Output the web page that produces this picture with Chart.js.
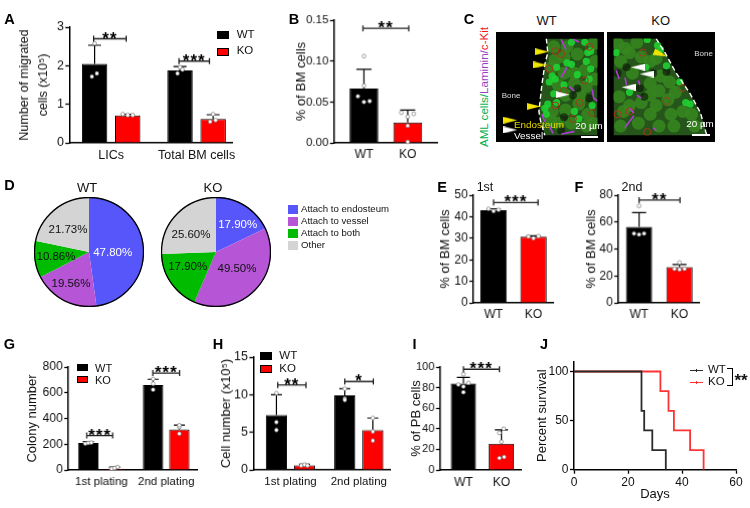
<!DOCTYPE html>
<html>
<head>
<meta charset="utf-8">
<script src="https://cdn.jsdelivr.net/npm/chart.js@4"></script>
<style>
  html, body { margin: 0; padding: 0; background: #fff; }
  #page { position: relative; width: 750px; height: 508px; overflow: hidden; font-family: 'Liberation Sans', Arial, sans-serif; color: #111; }
  #page canvas { position: absolute; }
  .txt { position: absolute; white-space: nowrap; line-height: 1; }
  .swatch { position: absolute; box-sizing: border-box; border: 1px solid #000; }
</style>
</head>
<body>
<div id="page"></div>
<script>
// A
const aGroups = ['LICs', 'Total BM cells'];
const aWT = [2.05, 1.88], aKO = [0.71, 0.62];
const aWTTop = [2.53, 1.98], aKOTop = [0.74, 0.73];
const aWTDots = [[2.58, 1.8, 1.72], [1.96, 1.8, 1.9]], aKODots = [[0.745, 0.72, 0.72], [0.745, 0.55, 0.59]];
const aWTJitter = [[0, 2.3, -2.7], [0, -2.5, 2.5]], aKOJitter = [[-5, 0, 5], [0, -3, 2.5]];
// B
const pair = ['WT', 'KO'];
const bMeans = [0.0665, 0.025], bTops = [0.09, 0.04];
const bDots = [[0.106, 0.07, 0.057, 0.05, 0.051], [0.037, 0.032, 0.0355, 0.021, 0.0012]];
const bJitter = [[0, 0, -6, 0, 5.7], [-6.3, 0, 6, 0, 0]];
// D
const pieNames = ['Attach to endosteum', 'Attach to vessel', 'Attach to both', 'Other'];
const pieColors = ['#5656fb', '#b655d6', '#00bb00', '#d4d4d4'];
const wtShares = [47.80, 19.56, 10.86, 21.73];
const wtPieLabels = ['47.80%', '19.56%', '10.86%', '21.73%'];
const koShares = [17.90, 38.6, 17.90, 25.60];
const koPieLabels = ['17.90%', '49.50%', '17.90%', '25.60%'];
// E
const eMeans = [43, 30.7], eTops = [43.7, 31.1];
const eDots = [[43.65, 42.6, 43.2], [30.8, 30, 31]];
const threeJitter = [[-5, 0, 5], [-5, 0, 5]];
// F
const fMeans = [56.5, 26.5], fTops = [67, 28.5];
const fDots = [[72, 51.5, 50.8, 51.5], [30, 25.3, 24.8, 25.3]];
const fJitter = [[0, -5, 0, 5], [0, -5, 0, 5]];
// G
const platings = ['1st plating', '2nd plating'];
const gWT = [210, 660], gKO = [10, 315];
const gWTTop = [220, 705], gKOTop = [22, 348];
const gWTDots = [[205, 210, 213], [707, 670, 624]], gKODots = [[10, 23, 15], [334, 282, 347]];
const gWTJitter = [[-3, 0, 3], [0, 0, 0]], gKOJitter = [[-3, 3, 0], [0, 0, 0]];
// H
const hWT = [7.3, 9.9], hKO = [0.6, 5.3];
const hWTTop = [10, 10.8], hKOTop = [0.75, 6.9];
const hWTDots = [[10.2, 6.35, 5.3], [10.8, 9.5, 9.3]], hKODots = [[0.58, 0.7, 0.58], [6.9, 5.1, 3.9]];
const hWTJitter = [[0, 0, 0], [0, 0, 0]], hKOJitter = [[-3.3, 0, 3], [0, 0, 0]];
// I
const iMeans = [84, 25.5], iTops = [90, 39];
const iDots = [[93, 83, 81, 84.5, 75.5], [40, 36, 27.4, 11.6, 12.6]];
const iJitter = [[0, -5, 0, 5, 0], [2.3, -2, 0, -2, 2.7]];
// J
const wtDays = [0, 25, 26, 29, 34], wtSurvival = [100, 60, 40, 20, 0];
const koDays = [0, 32, 35, 37, 43, 48], koSurvival = [100, 80, 60, 40, 20, 0];

const wtBoundary = [[155, 12], [160, 60], [150, 100], [140, 170], [130, 260], [135, 290], [150, 342]];
const wtTissue = wtBoundary.concat([[328, 342], [328, 12]]);
const wtGreen = [[180, 40], [215, 75], [260, 65], [185, 85], [250, 130], [285, 120], [215, 130], [320, 90], [175, 110], [195, 170], [250, 165], [290, 175], [220, 205], [175, 260], [220, 255], [270, 210], [295, 270], [240, 300], [195, 300], [290, 310], [315, 300], [170, 290], [320, 150], [265, 235], [225, 40], [315, 30]];
const wtBright = [[295, 60], [305, 55], [240, 25], [285, 25], [225, 95], [240, 100], [305, 115], [175, 140], [185, 150], [165, 160], [260, 135], [180, 200], [160, 235], [150, 250], [155, 270], [190, 230], [250, 260], [265, 285], [310, 240], [300, 150], [190, 110], [215, 170], [290, 90]];
const wtRed = [[185, 55], [205, 65], [165, 115], [300, 40], [185, 240], [268, 230], [215, 190], [285, 155], [245, 285], [310, 265]];
const wtDark = [[245, 205], [215, 280], [260, 182], [300, 215], [205, 325]];
const wtVessels = [[[205, 15], [222, 50]], [[245, 14], [265, 24]], [[205, 145], [225, 110]], [[310, 185], [315, 215], [328, 225]], [[232, 175], [250, 190]], [[140, 270], [150, 295]], [[165, 310], [178, 335]], [[205, 338], [250, 328]]];
const wtYellow = [[140, 57], [135, 102], [112, 243], [33, 290]], wtWhite = [[210, 203], [33, 323]];
const koBoundary = [[150, 12], [180, 60], [215, 125], [265, 200], [300, 265], [318, 330], [322, 342]];
const koTissue = koBoundary.concat([[6, 342], [6, 12]]);
const koGreen = [[45, 45], [20, 30], [85, 25], [60, 60], [100, 75], [130, 90], [150, 80], [30, 90], [70, 130], [130, 165], [165, 140], [195, 160], [215, 195], [160, 190], [190, 220], [150, 240], [200, 270], [240, 260], [270, 270], [130, 270], [90, 300], [40, 260], [30, 310], [100, 230], [60, 240], [160, 310], [210, 310], [280, 310], [130, 205], [25, 210]];
const koBright = [[165, 50], [155, 35], [120, 15], [115, 110], [60, 195], [250, 230], [265, 235], [15, 60], [230, 160], [185, 105]];
const koRed = [[185, 225], [105, 60], [60, 260], [120, 330], [20, 270], [240, 180]];
const koDark = [[50, 110], [20, 130], [140, 130], [110, 210], [185, 125], [95, 180]];
const koVessels = [[[15, 120], [25, 150]], [[45, 145], [50, 170]], [[90, 155], [95, 170]], [[85, 205], [100, 215]], [[60, 250], [75, 265]], [[45, 315], [75, 275]], [[140, 315], [150, 325]]];
const koYellow = [[165, 65]], koWhite = [[88, 110], [118, 133], [57, 178]];

Chart.defaults.font.family = "'Liberation Sans', Arial, sans-serif";
Chart.defaults.color = '#111';
Chart.defaults.animation = false;
Chart.defaults.plugins.legend.display = false;
Chart.defaults.plugins.tooltip.enabled = false;

const page = document.getElementById('page');

function addCanvas(x, y, w, h) {
  const c = document.createElement('canvas');
  c.width = w;
  c.height = h;
  c.style.left = x + 'px';
  c.style.top = y + 'px';
  c.style.width = w + 'px';
  c.style.height = h + 'px';
  page.appendChild(c);
  return c;
}

function label(text, x, y, opt) {
  opt = opt || {};
  const d = document.createElement('div');
  d.className = 'txt';
  d.innerHTML = text;
  d.style.left = x + 'px';
  d.style.top = y + 'px';
  d.style.fontSize = (opt.size || 12) + 'px';
  if (opt.bold) d.style.fontWeight = 'bold';
  if (opt.color) d.style.color = opt.color;
  d.style.transform = (opt.left ? 'translateY(-50%)' : 'translate(-50%,-50%)') + (opt.rotate ? ' rotate(' + opt.rotate + 'deg)' : '');
  page.appendChild(d);
}

function swatch(x, y, w, h, color, border) {
  const d = document.createElement('div');
  d.className = 'swatch';
  d.style.cssText = 'left:' + x + 'px;top:' + y + 'px;width:' + w + 'px;height:' + h + 'px;background:' + color + ';' + (border ? '' : 'border:none;');
  page.appendChild(d);
}

// fixed plot rectangle whatever the tick labels measure
function axisFit(box, p) {
  return {
    x(axis) { axis.height = box.y + box.h - p.bottom; axis.paddingLeft = 0; axis.paddingRight = 0; },
    y(axis) { axis.width = p.left - box.x; axis.paddingTop = 0; axis.paddingBottom = 0; }
  };
}

function barPanel(p) {
  const lh = p.titleSize * (p.titleLine || 1.2);
  const box = { x: p.titleX - lh / 2, y: Math.max(p.top - 18, 0), h: 0, w: 0 };
  box.w = p.right + 8 - box.x;
  box.h = p.bottom + 20 - box.y;
  const canvas = addCanvas(box.x, box.y, box.w, box.h);
  const fit = axisFit(box, p);
  const spacing = p.centers[1] - p.centers[0];
  const grouped = p.series.length > 1;
  const marks = {
    id: 'marks',
    afterDatasetsDraw(chart) {
      const ctx = chart.ctx, yScale = chart.scales.y;
      ctx.save();
      p.series.forEach((s, si) => {
        chart.getDatasetMeta(si).data.forEach((bar, j) => {
          const top = yScale.getPixelForValue(s.tops[j]);
          ctx.strokeStyle = '#000';
          ctx.lineWidth = 1.2;
          ctx.beginPath();
          ctx.moveTo(bar.x, yScale.getPixelForValue(s.values[j]));
          ctx.lineTo(bar.x, top);
          ctx.moveTo(bar.x - p.cap, top);
          ctx.lineTo(bar.x + p.cap, top);
          ctx.stroke();
          s.dots[j].forEach((v, k) => {
            ctx.beginPath();
            ctx.arc(bar.x + s.jitter[j][k], yScale.getPixelForValue(v), 1.9, 0, Math.PI * 2);
            ctx.fillStyle = '#fff';
            ctx.fill();
            ctx.strokeStyle = '#666';
            ctx.lineWidth = 0.6;
            ctx.stroke();
          });
        });
      });
      p.brackets.forEach(b => {
        const x0 = chart.getDatasetMeta(b.from[0]).data[b.from[1]].x + b.dx[0];
        const x1 = chart.getDatasetMeta(b.to[0]).data[b.to[1]].x + b.dx[1];
        const y = yScale.getPixelForValue(b.y);
        ctx.strokeStyle = '#222';
        ctx.lineWidth = 1.3;
        ctx.beginPath();
        ctx.moveTo(x0, y - 3);
        ctx.lineTo(x0, y + 3);
        ctx.moveTo(x0, y);
        ctx.lineTo(x1, y);
        ctx.moveTo(x1, y - 3);
        ctx.lineTo(x1, y + 3);
        ctx.stroke();
        ctx.fillStyle = '#000';
        ctx.font = "bold 17px 'Liberation Sans', Arial, sans-serif";
        ctx.letterSpacing = '1px';
        ctx.textAlign = 'center';
        ctx.textBaseline = 'alphabetic';
        ctx.fillText(b.stars, (x0 + x1) / 2, y + 5);
        ctx.letterSpacing = '0px';
      });
      ctx.restore();
    }
  };
  new Chart(canvas, {
    type: 'bar',
    data: {
      datasets: p.series.map(s => ({
        data: s.values.map((v, i) => ({ x: i, y: v })),
        backgroundColor: s.color,
        borderColor: '#000',
        borderWidth: 1,
        barPercentage: grouped ? p.barW / p.slot : p.barW / spacing,
        categoryPercentage: grouped ? p.slot * 2 / spacing : 1
      }))
    },
    options: {
      responsive: false,
      layout: { padding: { left: 0, top: p.top - box.y, right: box.x + box.w - p.right, bottom: 0 } },
      scales: {
        x: {
          type: 'linear',
          offset: false,
          min: (p.left - p.centers[0]) / spacing,
          max: (p.right - p.centers[0]) / spacing,
          afterBuildTicks(axis) { axis.ticks = p.labels.map((_, i) => ({ value: i })); },
          afterFit: fit.x,
          grid: { offset: false, drawOnChartArea: false, drawTicks: false },
          border: { color: '#000', width: 1.5 },
          ticks: { callback: v => p.labels[v], autoSkip: false, maxRotation: 0, padding: p.xPad, font: { size: p.xSize }, color: '#111' }
        },
        y: {
          min: 0,
          max: p.yMax,
          afterFit: fit.y,
          grid: { drawOnChartArea: false, tickLength: 4, tickColor: '#000', tickWidth: 1.3 },
          border: { color: '#000', width: 1.5 },
          ticks: { stepSize: p.yStep, padding: 1.5, font: { size: p.tickSize }, color: '#111', callback: v => v.toFixed(p.yDecimals || 0) },
          title: { display: true, text: p.title, padding: 0, color: '#111', font: { size: p.titleSize, lineHeight: p.titleLine || 1.2 } }
        }
      }
    },
    plugins: [marks]
  });
}

function piePanel(cx, cy, values, pieLabels, offsets) {
  const r = 54;
  const canvas = addCanvas(cx - r - 1, cy - r - 1, 2 * r + 2, 2 * r + 2);
  const ring = {
    id: 'ring',
    afterDatasetsDraw(chart) {
      const ctx = chart.ctx;
      const arc = chart.getDatasetMeta(0).data[0];
      ctx.save();
      ctx.beginPath();
      ctx.arc(arc.x, arc.y, arc.outerRadius - 0.5, 0, Math.PI * 2);
      ctx.strokeStyle = '#000';
      ctx.lineWidth = 1.3;
      ctx.stroke();
      ctx.restore();
    }
  };
  new Chart(canvas, {
    type: 'pie',
    data: { labels: pieNames, datasets: [{ data: values, backgroundColor: pieColors, borderWidth: 0 }] },
    options: { responsive: false, layout: { padding: 0 } },
    plugins: [ring]
  });
  pieLabels.forEach((t, i) => {
    label(t, cx + offsets[i][0], cy + offsets[i][1], { size: 11.5, color: i === 0 ? '#fff' : '#111' });
  });
}

function arrowSprite(color) {
  const c = document.createElement('canvas');
  c.width = 14;
  c.height = 7;
  const g = c.getContext('2d');
  g.fillStyle = color;
  g.beginPath();
  g.moveTo(0, 0);
  g.lineTo(14, 3.5);
  g.lineTo(0, 7);
  g.closePath();
  g.fill();
  return c;
}

function toXY(points) { return points.map(([x, y]) => ({ x, y })); }

function micrograph(box, xMin, xMax, d) {
  const canvas = addCanvas(box[0], box[1], box[2], box[3]);
  canvas.style.background = '#000';
  canvas.style.filter = 'blur(0.7px)';
  const dots = (pts, color, r) => ({ type: 'scatter', data: toXY(pts), backgroundColor: color, pointRadius: r, pointBorderWidth: 0 });
  const rings = (pts) => ({ type: 'scatter', data: toXY(pts), backgroundColor: 'rgba(0,0,0,0)', borderColor: '#a33a1c', pointRadius: 3.5, pointBorderWidth: 1 });
  const sets = [
    { type: 'scatter', data: toXY(d.tissue), showLine: true, fill: 'shape', backgroundColor: '#25551a', borderWidth: 0, pointRadius: 0 },
    dots(d.green, 'rgba(55,135,32,0.85)', 6.5),
    dots(d.dark, 'rgba(8,20,5,0.6)', 4),
    dots(d.bright, 'rgba(30,210,50,0.9)', 3.6),
    rings(d.red)
  ];
  d.vessels.forEach(v => sets.push({ type: 'scatter', data: toXY(v), showLine: true, borderColor: '#b23cd8', borderWidth: 1.6, pointRadius: 0 }));
  sets.push({ type: 'scatter', data: toXY(d.boundary), showLine: true, borderColor: '#fff', borderWidth: 1.4, borderDash: [5, 3], pointRadius: 0 });
  sets.push({ type: 'scatter', data: toXY(d.yellow), pointStyle: arrowSprite('#f2e600'), pointRotation: d.yellowTurn });
  sets.push({ type: 'scatter', data: toXY(d.white), pointStyle: arrowSprite('#fff'), pointRotation: d.whiteTurn });
  sets.forEach((s, i) => { s.order = sets.length - i; });
  new Chart(canvas, {
    data: { datasets: sets },
    options: {
      responsive: false,
      layout: { padding: 0 },
      scales: {
        x: { type: 'linear', display: false, min: xMin, max: xMax },
        y: { type: 'linear', display: false, min: 12, max: 342, reverse: true }
      }
    }
  });
}

// panel A
barPanel({
  left: 69, top: 27, right: 232, bottom: 142.7, centers: [110.9, 196.5], barW: 25.5, slot: 33.2, cap: 6.5,
  labels: aGroups, yMax: 3, yStep: 1, tickSize: 12.5, xSize: 12.5, xPad: 5,
  title: ['Number of migrated', 'cells (x10⁵)'], titleX: 24, titleSize: 12.5, titleLine: 1.5,
  series: [
    { color: '#000', values: aWT, tops: aWTTop, dots: aWTDots, jitter: aWTJitter },
    { color: '#f00', values: aKO, tops: aKOTop, dots: aKODots, jitter: aKOJitter }
  ],
  brackets: [
    { from: [0, 0], to: [1, 0], dx: [-1, -1.5], y: 2.7, stars: '**' },
    { from: [0, 1], to: [1, 1], dx: [-1, -3.7], y: 2.12, stars: '***' }
  ]
});
// panel B
barPanel({
  left: 334, top: 20, right: 436.7, bottom: 142.7, centers: [363.8, 407.5], barW: 28.7, cap: 7.5,
  labels: pair, yMax: 0.15, yStep: 0.05, yDecimals: 2, tickSize: 11.5, xSize: 12, xPad: 4,
  title: '% of BM cells', titleX: 302, titleSize: 13,
  series: [{ color: ['#000', '#f00'], values: bMeans, tops: bTops, dots: bDots, jitter: bJitter }],
  brackets: [{ from: [0, 0], to: [0, 1], dx: [-1, 1], y: 0.14, stars: '**' }]
});
// panel E
barPanel({
  left: 473.3, top: 195, right: 553, bottom: 302.7, centers: [493.5, 533.5], barW: 26.4, cap: 7,
  labels: pair, yMax: 50, yStep: 10, tickSize: 12, xSize: 12, xPad: 4,
  title: '% of BM cells', titleX: 446, titleSize: 13,
  series: [{ color: ['#000', '#f00'], values: eMeans, tops: eTops, dots: eDots, jitter: threeJitter }],
  brackets: [{ from: [0, 0], to: [0, 1], dx: [0, 4.5], y: 46.6, stars: '***' }]
});
// panel F
barPanel({
  left: 618.3, top: 195, right: 699, bottom: 302.7, centers: [639, 679.5], barW: 26.3, cap: 7,
  labels: pair, yMax: 80, yStep: 20, tickSize: 12, xSize: 12, xPad: 4,
  title: '% of BM cells', titleX: 592, titleSize: 13,
  series: [{ color: ['#000', '#f00'], values: fMeans, tops: fTops, dots: fDots, jitter: fJitter }],
  brackets: [{ from: [0, 0], to: [0, 1], dx: [0, 0.5], y: 76.3, stars: '**' }]
});
// panel G
barPanel({
  left: 68.3, top: 366.7, right: 196.7, bottom: 469.7, centers: [101.3, 166], barW: 20.3, slot: 26.2, cap: 5.5,
  labels: platings, yMax: 800, yStep: 200, tickSize: 12, xSize: 11.5, xPad: 5,
  title: 'Colony number', titleX: 33, titleSize: 13,
  series: [
    { color: '#000', values: gWT, tops: gWTTop, dots: gWTDots, jitter: gWTJitter },
    { color: '#f00', values: gKO, tops: gKOTop, dots: gKODots, jitter: gKOJitter }
  ],
  brackets: [
    { from: [0, 0], to: [1, 0], dx: [-1.5, -1.8], y: 267, stars: '***' },
    { from: [0, 1], to: [1, 1], dx: [-0.3, 0.2], y: 753, stars: '***' }
  ]
});
// panel H
barPanel({
  left: 253.3, top: 357.3, right: 390, bottom: 470, centers: [290.4, 358.8], barW: 21.3, slot: 28.1, cap: 5.5,
  labels: platings, yMax: 15, yStep: 5, tickSize: 12.5, xSize: 11.5, xPad: 5,
  title: 'Cell number (x10⁵)', titleX: 226.7, titleSize: 13,
  series: [
    { color: '#000', values: hWT, tops: hWTTop, dots: hWTDots, jitter: hWTJitter },
    { color: '#f00', values: hKO, tops: hKOTop, dots: hKODots, jitter: hKOJitter }
  ],
  brackets: [
    { from: [0, 0], to: [1, 0], dx: [1.3, 1.5], y: 11.3, stars: '**' },
    { from: [0, 1], to: [1, 1], dx: [0, 0.5], y: 11.75, stars: '*' }
  ]
});
// panel I
barPanel({
  left: 440, top: 366.7, right: 520.7, bottom: 470, centers: [463.3, 501.2], barW: 25.2, cap: 6.5,
  labels: pair, yMax: 100, yStep: 20, tickSize: 11, xSize: 12, xPad: 5,
  title: '% of PB cells', titleX: 417, titleSize: 13,
  series: [{ color: ['#000', '#f00'], values: iMeans, tops: iTops, dots: iDots, jitter: iJitter }],
  brackets: [{ from: [0, 0], to: [0, 1], dx: [0, -2], y: 97.8, stars: '***' }]
});

// panel C
micrograph([496, 32, 108, 110], 7, 328, {
  tissue: wtTissue, boundary: wtBoundary, green: wtGreen, bright: wtBright, red: wtRed, dark: wtDark,
  vessels: wtVessels, yellow: wtYellow, white: wtWhite, yellowTurn: 0, whiteTurn: 0
});
micrograph([607, 32, 108, 110], 6, 327, {
  tissue: koTissue, boundary: koBoundary, green: koGreen, bright: koBright, red: koRed, dark: koDark,
  vessels: koVessels, yellow: koYellow, white: koWhite, yellowTurn: 20, whiteTurn: 180
});
label('WT', 546.7, 19.5, { size: 13 });
label('KO', 660.7, 19.5, { size: 13 });
label('<span style="color:#00b050">AML cells/</span><span style="color:#9a3ec4">Laminin/</span><span style="color:#f01818">c-Kit</span>', 484, 86.5, { size: 11.6, rotate: -90 });
label('Bone', 511, 96, { size: 8, color: '#ddd' });
label('Bone', 703.5, 53.5, { size: 8, color: '#ddd' });
label('Endosteum', 514, 125, { size: 9.9, color: '#e6dc00', left: true });
label('Vessel', 514, 135.5, { size: 9.9, color: '#fff', left: true });
label('20 µm', 589, 125.5, { size: 9.8, color: '#fff' });
label('20 µm', 700, 123.5, { size: 9.8, color: '#fff' });
swatch(581, 136, 17, 1.5, '#fff');
swatch(692, 134, 18, 1.5, '#fff');

// panel D
piePanel(89.3, 251.7, wtShares, wtPieLabels, [[23.4, 1.6], [-18.3, 32.3], [-33.3, 5], [-21.3, -21.7]]);
piePanel(215.7, 252.3, koShares, koPieLabels, [[22, -27.3], [21.3, 16.7], [-28, 15], [-24.7, -17.3]]);
label('WT', 87, 186.5, { size: 13 });
label('KO', 213, 186.5, { size: 13 });
pieNames.forEach((name, i) => {
  swatch(287.5, 205 + i * 12, 10.5, 8.5, pieColors[i]);
  label(name, 301, 209.3 + i * 12, { size: 9.6, left: true });
});

// panel J
(function () {
  const p = { left: 574, top: 361.7, right: 736, bottom: 469.7 };
  const box = { x: 535, y: 350, w: 215, h: 152 };
  const fit = axisFit(box, p);
  new Chart(addCanvas(box.x, box.y, box.w, box.h), {
    type: 'line',
    data: {
      datasets: [
        { data: wtDays.map((d, i) => ({ x: d, y: wtSurvival[i] })), borderColor: '#2b2b2b', borderWidth: 1.8, stepped: true, pointRadius: 0 },
        { data: koDays.map((d, i) => ({ x: d, y: koSurvival[i] })), borderColor: '#f33', borderWidth: 1.8, stepped: true, pointRadius: 0 }
      ]
    },
    options: {
      responsive: false,
      layout: { padding: { left: 0, top: p.top - box.y, right: box.x + box.w - p.right, bottom: 0 } },
      scales: {
        x: {
          type: 'linear', min: 0, max: 60,
          afterFit: fit.x,
          grid: { drawOnChartArea: false, tickLength: 4, tickColor: '#000', tickWidth: 1.3 },
          border: { color: '#000', width: 1.5 },
          ticks: { stepSize: 20, padding: 1.5, font: { size: 12 }, color: '#111' },
          title: { display: true, text: 'Days', padding: { top: 0, bottom: 0 }, color: '#111', font: { size: 13 } }
        },
        y: {
          min: 0, max: 110,
          afterFit: fit.y,
          grid: { drawOnChartArea: false, tickLength: 4, tickColor: '#000', tickWidth: 1.3 },
          border: { color: '#000', width: 1.5 },
          ticks: { stepSize: 50, includeBounds: false, padding: 1.5, font: { size: 12 }, color: '#111' },
          title: { display: true, text: 'Percent survival', padding: 0, color: '#111', font: { size: 13 } }
        }
      }
    }
  });
})();
swatch(690, 369.5, 12.7, 1.5, '#2b2b2b');
swatch(695.7, 368.5, 1.2, 3.5, '#2b2b2b');
swatch(690, 381.5, 12.7, 1.5, '#f33');
swatch(695.7, 380.5, 1.2, 3.5, '#f33');
label('WT', 708, 370, { size: 11.5, left: true });
label('KO', 708, 382, { size: 11.5, left: true });
swatch(727, 368, 5, 1.3, '#000');
swatch(727, 385, 5, 1.3, '#000');
swatch(732, 368, 1.3, 18.3, '#000');
label('**', 741, 380, { size: 17, bold: true });

// legends of A, G, H
[[216.7, 31, 236.7, 35], [216.7, 47.5, 236.7, 51]].forEach((r, i) => {
  swatch(r[0], r[1], 12.6, 8, i ? '#f00' : '#000', true);
  label(pair[i], r[2], r[3], { size: 11.5, left: true });
});
[[77.3, 364, 95, 367.5], [77.3, 376, 95, 379.5]].forEach((r, i) => {
  swatch(r[0], r[1], 11, 7, i ? '#f00' : '#000', true);
  label(pair[i], r[2], r[3], { size: 11, left: true });
});
[[260, 352, 279.3, 356], [260, 365, 279.3, 369]].forEach((r, i) => {
  swatch(r[0], r[1], 12.3, 8, i ? '#f00' : '#000', true);
  label(pair[i], r[2], r[3], { size: 11.5, left: true });
});

// side titles and panel letters
label('1st', 485, 187, { size: 12.5 });
label('2nd', 632, 187, { size: 12.5 });
[['A', 9.5, 18.5], ['B', 294, 18.5], ['C', 469, 18.5], ['D', 9.5, 185], ['E', 442, 187], ['F', 579, 187], ['G', 9.5, 344], ['H', 218, 344], ['I', 414.5, 344], ['J', 544, 344]].forEach(l => {
  label(l[0], l[1], l[2], { size: 14.5, bold: true, color: '#000' });
});
</script>
</body>
</html>
